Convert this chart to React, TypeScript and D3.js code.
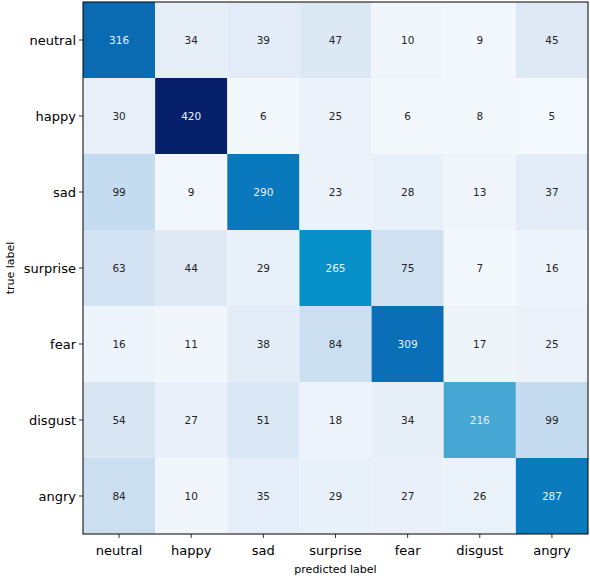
import React from "react";
import * as d3 from "d3";

const labels = ["neutral", "happy", "sad", "surprise", "fear", "disgust", "angry"];

// rows = true label, columns = predicted label
const neutralRow = [316, 34, 39, 47, 10, 9, 45];
const happyRow = [30, 420, 6, 25, 6, 8, 5];
const sadRow = [99, 9, 290, 23, 28, 13, 37];
const surpriseRow = [63, 44, 29, 265, 75, 7, 16];
const fearRow = [16, 11, 38, 84, 309, 17, 25];
const disgustRow = [54, 27, 51, 18, 34, 216, 99];
const angryRow = [84, 10, 35, 29, 27, 26, 287];

const matrix = [neutralRow, happyRow, sadRow, surpriseRow, fearRow, disgustRow, angryRow];

const colorStops = [
  [0, "#f7fbff"],
  [0.03, "#eff5fb"],
  [0.08, "#e6eef8"],
  [0.11, "#dde8f5"],
  [0.15, "#d4e3f3"],
  [0.2, "#cbdff0"],
  [0.24, "#c4dbef"],
  [0.38, "#8ac2e6"],
  [0.51, "#48a8d5"],
  [0.63, "#0891c8"],
  [0.69, "#0a78bc"],
  [0.75, "#0a6cb4"],
  [1, "#07206b"],
] as const;

const W = 590;
const H = 577;
const left = 83;
const right = 588;
const top = 2;
const bottom = 534;

export default function App() {
  const maxV = d3.max(matrix.flat()) as number;
  const x = d3.scaleBand<string>().domain(labels).range([left, right]);
  const y = d3.scaleBand<string>().domain(labels).range([top, bottom]);
  const color = d3
    .scaleLinear<string>()
    .domain(colorStops.map((s) => s[0] * maxV))
    .range(colorStops.map((s) => s[1]))
    .interpolate(d3.interpolateRgb);
  const font = "DejaVu Sans, sans-serif";

  return (
    <svg
      width={W}
      height={H}
      style={{ position: "absolute", left: 0, top: 0, background: "#fff" }}
      fontFamily={font}
    >
      {matrix.map((row, i) =>
        row.map((v, j) => (
          <g key={`${i}-${j}`}>
            <rect
              x={x(labels[j])}
              y={y(labels[i])}
              width={x.bandwidth()}
              height={y.bandwidth()}
              fill={color(v)}
            />
            <text
              x={(x(labels[j]) as number) + x.bandwidth() / 2}
              y={(y(labels[i]) as number) + y.bandwidth() / 2}
              dy="0.35em"
              textAnchor="middle"
              fontSize={10.5}
              fill={v > maxV / 2 ? "#e8f1fa" : "#262626"}
            >
              {v}
            </text>
          </g>
        ))
      )}
      <rect
        x={left}
        y={top}
        width={right - left}
        height={bottom - top}
        fill="none"
        stroke="#000"
        strokeWidth={1}
      />
      {labels.map((l) => {
        const cy = (y(l) as number) + y.bandwidth() / 2;
        return (
          <g key={`y-${l}`}>
            <line x1={left - 4} x2={left} y1={cy} y2={cy} stroke="#000" strokeWidth={0.8} />
            <text x={left - 7} y={cy} dy="0.35em" textAnchor="end" fontSize={13} fill="#000">
              {l}
            </text>
          </g>
        );
      })}
      {labels.map((l) => {
        const cx = (x(l) as number) + x.bandwidth() / 2;
        return (
          <g key={`x-${l}`}>
            <line x1={cx} x2={cx} y1={bottom} y2={bottom + 4} stroke="#000" strokeWidth={0.8} />
            <text x={cx} y={bottom + 21} textAnchor="middle" fontSize={13} fill="#000">
              {l}
            </text>
          </g>
        );
      })}
      <text x={(left + right) / 2} y={573} textAnchor="middle" fontSize={11} fill="#000">
        predicted label
      </text>
      <text
        transform={`translate(14, ${(top + bottom) / 2}) rotate(-90)`}
        textAnchor="middle"
        fontSize={11}
        fill="#000"
      >
        true label
      </text>
    </svg>
  );
}
